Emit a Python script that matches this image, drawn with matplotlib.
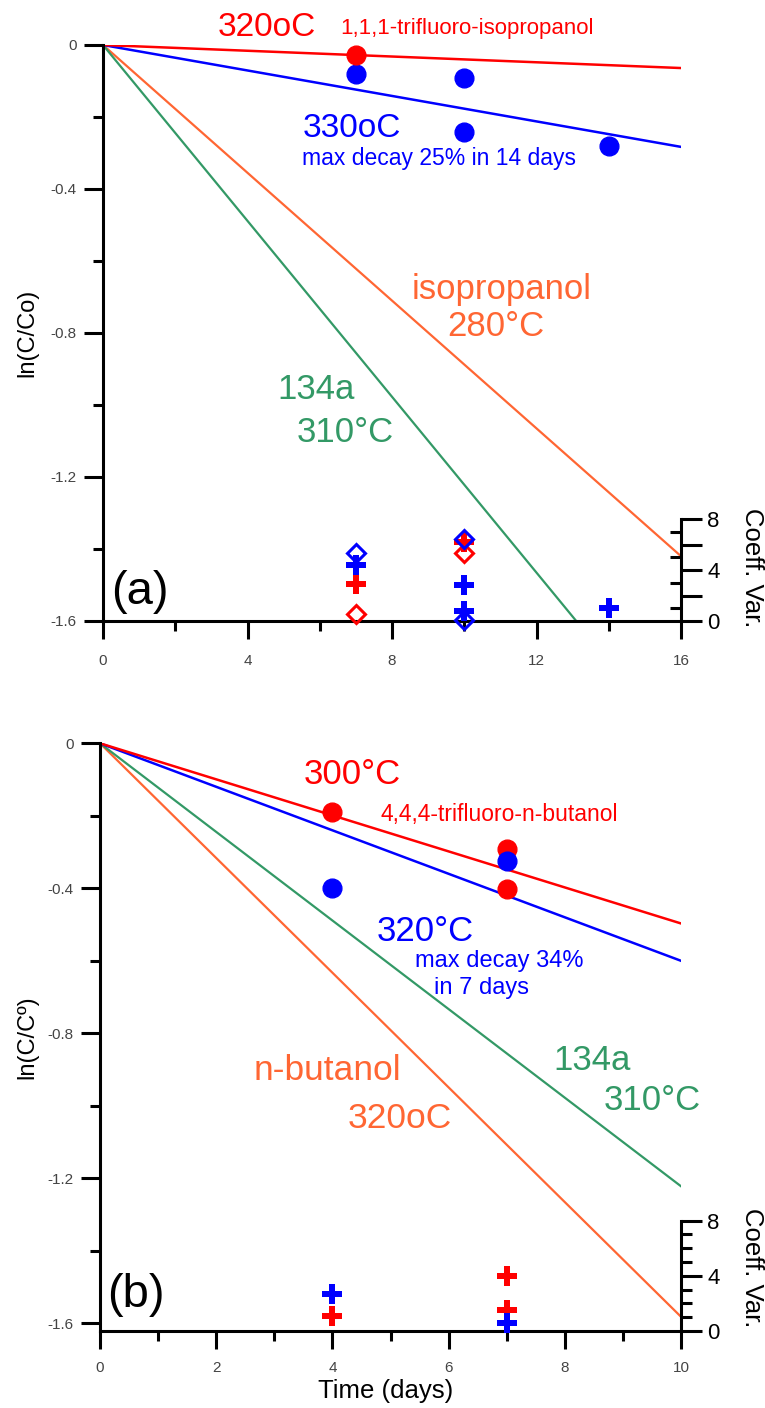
import matplotlib
matplotlib.use("Agg")
import matplotlib.pyplot as plt

plt.rcParams['font.family'] = ['Liberation Sans', 'DejaVu Sans']
NARROW = ['Liberation Sans Narrow', 'Liberation Sans', 'DejaVu Sans']

RED = '#FF0000'
BLUE = '#0000FF'
ORANGE = '#FF6633'
GREEN = '#339966'

## PANEL (a) data --------------------------------------------------
# fitted first-order decay lines, ln(C/Co) vs time
a_red_t, a_red_y = [0, 16], [0, -0.064]        # 320oC trifluoro-isopropanol
a_blue_t, a_blue_y = [0, 16], [0, -0.283]      # 330oC
a_iso_t, a_iso_y = [0, 16], [0, -1.42]         # isopropanol 280C
a_r134_t, a_r134_y = [0, 13.1], [0, -1.6]      # 134a 310C

# measured points
a_red_pt_t, a_red_pt_y = [7], [-0.028]
a_blue_pt_t = [7, 10, 10, 14]
a_blue_pt_y = [-0.081, -0.092, -0.241, -0.280]

# coefficient of variation (right axis)
a_cv_red_plus_t, a_cv_red_plus = [7, 10], [2.9, 6.2]
a_cv_red_diam_t, a_cv_red_diam = [7, 10], [0.55, 5.3]
a_cv_blue_plus_t, a_cv_blue_plus = [7, 10, 10, 14], [4.4, 2.8, 0.8, 1.0]
a_cv_blue_diam_t, a_cv_blue_diam = [7, 10, 10], [5.3, 6.45, 0.1]

a_xticks = [0, 4, 8, 12, 16]
a_xminor = [2, 6, 10, 14]

## PANEL (b) data --------------------------------------------------
b_red_t, b_red_y = [0, 10], [0, -0.497]        # 300C trifluoro-n-butanol
b_blue_t, b_blue_y = [0, 10], [0, -0.60]       # 320C
b_r134_t, b_r134_y = [0, 10], [0, -1.222]      # 134a 310C
b_but_t, b_but_y = [0, 10], [0, -1.582]        # n-butanol 320C

b_red_pt_t, b_red_pt_y = [4, 7, 7], [-0.19, -0.292, -0.403]
b_blue_pt_t, b_blue_pt_y = [4, 7], [-0.40, -0.324]

b_cv_red_plus_t, b_cv_red_plus = [4, 7, 7], [1.1, 4.0, 1.5]
b_cv_blue_plus_t, b_cv_blue_plus = [4, 7], [2.7, 0.6]

b_xticks = [0, 2, 4, 6, 8, 10]
b_xminor = [1, 3, 5, 7, 9]

yticks = [0, -0.4, -0.8, -1.2, -1.6]
ytick_labels = ['0', '-0.4', '-0.8', '-1.2', '-1.6']
yminor = [-0.2, -0.6, -1.0, -1.4]
cv_ticks = [0, 4, 8]

W, H = 765, 1408
fig = plt.figure(figsize=(W / 100, H / 100), dpi=100)


def rect(x0, y0, x1, y1):
    # pixel box -> figure fraction
    return [x0 / W, 1 - y1 / H, (x1 - x0) / W, (y1 - y0) / H]


def setup(ax, xmax, ymin, xt, xm, xpad):
    ax.set_xlim(0, xmax)
    ax.set_ylim(ymin, 0)
    for s in ['top', 'right']:
        ax.spines[s].set_visible(False)
    for s in ['left', 'bottom']:
        ax.spines[s].set_linewidth(2.2)
    ax.set_yticks(yticks, labels=ytick_labels, fontfamily=NARROW,
                  fontsize=11, color='#444444')
    ax.set_yticks(yminor, minor=True)
    ax.set_xticks(xt, labels=[str(v) for v in xt], fontfamily=NARROW,
                  fontsize=11, color='#444444')
    ax.set_xticks(xm, minor=True)
    ax.tick_params(axis='y', which='major', length=14, width=2.2, pad=5)
    ax.tick_params(axis='y', which='minor', length=7, width=2.2)
    ax.tick_params(axis='x', which='major', length=13, width=2.2, pad=xpad)
    ax.tick_params(axis='x', which='minor', length=7.5, width=2.2)


def cv_axis(ax, top, minor, minor_dir):
    a2 = ax.twinx()
    a2.set_ylim(0, top)
    for s in ['top', 'left', 'bottom']:
        a2.spines[s].set_visible(False)
    a2.spines['right'].set_linewidth(2.2)
    a2.spines['right'].set_bounds(0, 8)
    a2.set_yticks(cv_ticks, labels=[str(v) for v in cv_ticks], fontsize=16)
    a2.set_yticks(minor, minor=True)
    a2.tick_params(axis='y', which='major', length=15, width=2.2, pad=4)
    a2.tick_params(axis='y', which='minor', length=8, width=2.2,
                   direction=minor_dir)
    return a2


## PANEL (a) -------------------------------------------------------
ax = fig.add_axes(rect(103, 45, 681, 621))
setup(ax, 16, -1.6, a_xticks, a_xminor, 11)
ax.plot(a_iso_t, a_iso_y, color=ORANGE, lw=1.6)
ax.plot(a_r134_t, a_r134_y, color=GREEN, lw=1.6)
ax.plot(a_blue_t, a_blue_y, color=BLUE, lw=1.8)
ax.plot(a_red_t, a_red_y, color=RED, lw=1.8)
ax.plot(a_blue_pt_t, a_blue_pt_y, 'o', color=BLUE, ms=13.5)
ax.plot(a_red_pt_t, a_red_pt_y, 'o', color=RED, ms=13.5, clip_on=False)

ax.text(4.54, 0.05, '320oC', color=RED, fontsize=24, ha='center', va='center')
ax.text(6.56, 0.045, '1,1,1-trifluoro-isopropanol', color=RED, fontsize=16,
        ha='left', va='center')
ax.text(6.89, -0.231, '330oC', color=BLUE, fontsize=24, ha='center', va='center')
ax.text(5.51, -0.314, 'max decay 25% in 14 days', color=BLUE, fontsize=16.5,
        ha='left', va='center')
ax.text(11.04, -0.678, 'isopropanol', color=ORANGE, fontsize=25,
        ha='center', va='center')
ax.text(10.88, -0.783, '280°C', color=ORANGE, fontsize=25, ha='center', va='center')
ax.text(5.9, -0.958, '134a', color=GREEN, fontsize=25, ha='center', va='center')
ax.text(6.7, -1.075, '310°C', color=GREEN, fontsize=25, ha='center', va='center')
ax.text(1.02, -1.52, '(a)', color='black', fontsize=34, ha='center', va='center')

ax2 = cv_axis(ax, 576 / 12.75, [1, 2, 3, 5, 6, 7], 'in')
ax2.set_yticks([0, 2, 4, 6, 8], labels=['0', '', '4', '', '8'], fontsize=16)
ax2.set_yticks([1, 3, 5, 7], minor=True)
ax2.plot(a_cv_red_plus_t, a_cv_red_plus, 'P', color=RED, ms=14, mew=0, clip_on=False)
ax2.plot(a_cv_blue_plus_t, a_cv_blue_plus, 'P', color=BLUE, ms=14, mew=0, clip_on=False)
ax2.plot(a_cv_red_diam_t, a_cv_red_diam, 'D', mfc='none', mec=RED, ms=9,
         mew=2.2, clip_on=False)
ax2.plot(a_cv_blue_diam_t, a_cv_blue_diam, 'D', mfc='none', mec=BLUE, ms=9,
         mew=2.2, clip_on=False)

## PANEL (b) -------------------------------------------------------
bx = fig.add_axes(rect(100, 743.3, 681, 1331))
setup(bx, 10, -(1331 - 743.3) / 362.5, b_xticks, b_xminor, 8.5)
bx.plot(b_but_t, b_but_y, color=ORANGE, lw=1.6)
bx.plot(b_r134_t, b_r134_y, color=GREEN, lw=1.6)
bx.plot(b_blue_t, b_blue_y, color=BLUE, lw=1.8)
bx.plot(b_red_t, b_red_y, color=RED, lw=1.8)
bx.plot(b_red_pt_t, b_red_pt_y, 'o', color=RED, ms=13.5)
bx.plot(b_blue_pt_t, b_blue_pt_y, 'o', color=BLUE, ms=13.5)

bx.text(4.34, -0.087, '300°C', color=RED, fontsize=25, ha='center', va='center')
bx.text(4.82, -0.197, '4,4,4-trifluoro-n-butanol', color=RED, fontsize=16.5,
        ha='left', va='center')
bx.text(5.59, -0.52, '320°C', color=BLUE, fontsize=25, ha='center', va='center')
bx.text(6.87, -0.60, 'max decay 34%', color=BLUE, fontsize=17, ha='center', va='center')
bx.text(6.57, -0.675, 'in 7 days', color=BLUE, fontsize=17, ha='center', va='center')
bx.text(3.92, -0.904, 'n-butanol', color=ORANGE, fontsize=25.5, ha='center', va='center')
bx.text(5.16, -1.034, '320oC', color=ORANGE, fontsize=25.5, ha='center', va='center')
bx.text(8.47, -0.874, '134a', color=GREEN, fontsize=25, ha='center', va='center')
bx.text(9.5, -0.984, '310°C', color=GREEN, fontsize=25, ha='center', va='center')
bx.text(0.62, -1.522, '(b)', color='black', fontsize=34, ha='center', va='center')

bx2 = cv_axis(bx, 587.7 / 13.79, [1, 2, 3, 5, 6, 7], 'out')
bx2.plot(b_cv_red_plus_t, b_cv_red_plus, 'P', color=RED, ms=14, mew=0, clip_on=False)
bx2.plot(b_cv_blue_plus_t, b_cv_blue_plus, 'P', color=BLUE, ms=14, mew=0, clip_on=False)

## axis titles -----------------------------------------------------
fig.text(27 / W, 1 - 333 / H, 'ln(C/Co)', rotation=90, fontsize=17,
         ha='center', va='center')
fig.text(27 / W, 1 - 1037 / H, 'ln(C/Cº)', rotation=90, fontsize=17,
         ha='center', va='center')
fig.text(752 / W, 1 - 568 / H, 'Coeff. Var.', rotation=270, fontsize=18.5,
         ha='center', va='center')
fig.text(752 / W, 1 - 1268 / H, 'Coeff. Var.', rotation=270, fontsize=18.5,
         ha='center', va='center')
fig.text(386 / W, 1 - 1391 / H, 'Time (days)', fontsize=18.5,
         ha='center', va='center')

fig.savefig('out.png', dpi=100, facecolor='white')
